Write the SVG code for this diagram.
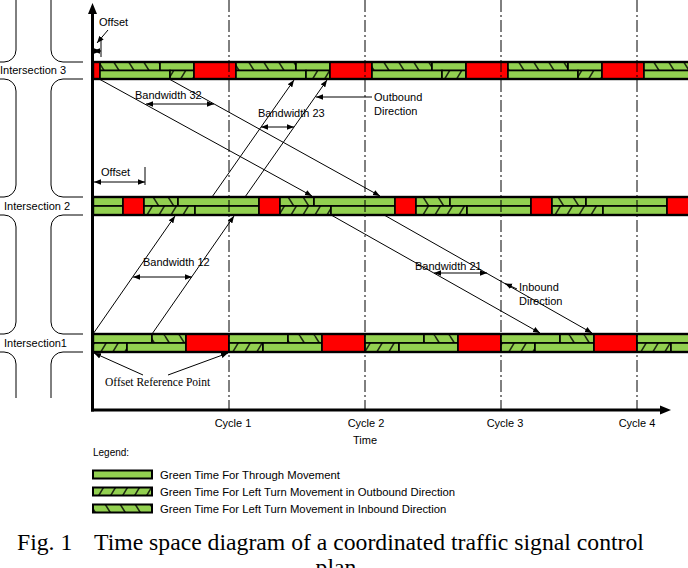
<svg xmlns="http://www.w3.org/2000/svg" width="688" height="568" viewBox="0 0 688 568">
<style>
text{font-family:"Liberation Sans",Arial,sans-serif;font-size:11px;fill:#000}
.serif{font-family:"Liberation Serif","Times New Roman",serif}
.g{fill:#92d050;stroke:#000;stroke-width:1.6}
.r{fill:#ff0000;stroke:#000;stroke-width:1.6}
.hi{fill:url(#pin);stroke:#000;stroke-width:1.6}
.ho{fill:url(#pout);stroke:#000;stroke-width:1.6}
.frame{fill:none;stroke:#000;stroke-width:2.4}
.road{fill:none;stroke:#000;stroke-width:1}
.ln{fill:none;stroke:#000;stroke-width:1}
.cyc{fill:none;stroke:#000;stroke-width:1;stroke-dasharray:12 3 2 3}
.ax{fill:none;stroke:#000;stroke-width:3}
.leg{font-size:11.3px}
.cap{font-size:23.7px}
</style>
<defs>
<pattern id="pin" patternUnits="userSpaceOnUse" width="15" height="24">
<rect width="15" height="24" fill="#92d050"/>
<path d="M-15,0 L0,24 M0,0 L15,24 M15,0 L30,24" stroke="#1e2a12" stroke-width="1.6"/>
</pattern>
<pattern id="pout" patternUnits="userSpaceOnUse" width="12" height="20">
<rect width="12" height="20" fill="#92d050"/>
<path d="M-12,20 L0,0 M0,20 L12,0 M12,20 L24,0" stroke="#1e2a12" stroke-width="1.6"/>
</pattern>
<marker id="ah" viewBox="0 0 10 10" refX="10" refY="5" markerWidth="7" markerHeight="7" orient="auto-start-reverse" markerUnits="userSpaceOnUse">
<path d="M0,1 L10,5 L0,9 z" fill="#000"/>
</marker>
</defs>

<!-- Roads -->
<g id="roads">
<path class="road" d="M16,0 V50 A12,12 0 0 1 4,62 H0"/>
<path class="road" d="M51,0 V50 A12,12 0 0 0 63,62 H83"/>
<path class="road" d="M0,79 H4 A12,12 0 0 1 16,91 V185 A12,12 0 0 1 4,197 H0"/>
<path class="road" d="M83,79 H63 A12,12 0 0 0 51,91 V185 A12,12 0 0 0 63,197 H83"/>
<path class="road" d="M0,215 H4 A12,12 0 0 1 16,227 V322 A12,12 0 0 1 4,334 H0"/>
<path class="road" d="M83,215 H63 A12,12 0 0 0 51,227 V322 A12,12 0 0 0 63,334 H83"/>
<path class="road" d="M0,352 H4 A12,12 0 0 1 16,364 V398"/>
<path class="road" d="M83,352 H63 A12,12 0 0 0 51,364 V398"/>
</g>

<!-- Intersection 3 -->
<g id="intersection3">
<rect class="r" x="93" y="62" width="7" height="17"/>
<rect class="hi" x="100" y="62" width="60" height="8.5"/><rect class="g" x="160" y="62" width="34" height="8.5"/>
<rect class="g" x="100" y="70.5" width="70" height="8.5"/><rect class="ho" x="170" y="70.5" width="24" height="8.5"/>
<rect class="r" x="194" y="62" width="42" height="17"/>
<rect class="hi" x="236" y="62" width="60" height="8.5"/><rect class="g" x="296" y="62" width="34" height="8.5"/>
<rect class="g" x="236" y="70.5" width="70" height="8.5"/><rect class="ho" x="306" y="70.5" width="24" height="8.5"/>
<rect class="r" x="330" y="62" width="42" height="17"/>
<rect class="hi" x="372" y="62" width="60" height="8.5"/><rect class="g" x="432" y="62" width="34" height="8.5"/>
<rect class="g" x="372" y="70.5" width="70" height="8.5"/><rect class="ho" x="442" y="70.5" width="24" height="8.5"/>
<rect class="r" x="466" y="62" width="42" height="17"/>
<rect class="hi" x="508" y="62" width="60" height="8.5"/><rect class="g" x="568" y="62" width="34" height="8.5"/>
<rect class="g" x="508" y="70.5" width="70" height="8.5"/><rect class="ho" x="578" y="70.5" width="24" height="8.5"/>
<rect class="r" x="602" y="62" width="42" height="17"/>
<rect class="hi" x="644" y="62" width="46" height="8.5"/>
<rect class="g" x="644" y="70.5" width="46" height="8.5"/>
<rect class="frame" x="93" y="62" width="597" height="17"/>
<text x="0" y="74">Intersection 3</text>
</g>

<!-- Intersection 2 -->
<g id="intersection2">
<rect class="g" x="93" y="197" width="30" height="9"/><rect class="g" x="93" y="206" width="30" height="9"/>
<rect class="r" x="123" y="197" width="21" height="18"/>
<rect class="hi" x="144" y="197" width="34" height="9"/><rect class="g" x="178" y="197" width="81" height="9"/>
<rect class="ho" x="144" y="206" width="51" height="9"/><rect class="g" x="195" y="206" width="64" height="9"/>
<rect class="r" x="259" y="197" width="21" height="18"/>
<rect class="hi" x="280" y="197" width="34" height="9"/><rect class="g" x="314" y="197" width="81" height="9"/>
<rect class="ho" x="280" y="206" width="51" height="9"/><rect class="g" x="331" y="206" width="64" height="9"/>
<rect class="r" x="395" y="197" width="21" height="18"/>
<rect class="hi" x="416" y="197" width="34" height="9"/><rect class="g" x="450" y="197" width="81" height="9"/>
<rect class="ho" x="416" y="206" width="51" height="9"/><rect class="g" x="467" y="206" width="64" height="9"/>
<rect class="r" x="531" y="197" width="21" height="18"/>
<rect class="hi" x="552" y="197" width="34" height="9"/><rect class="g" x="586" y="197" width="81" height="9"/>
<rect class="ho" x="552" y="206" width="51" height="9"/><rect class="g" x="603" y="206" width="64" height="9"/>
<rect class="r" x="667" y="197" width="23" height="18"/>
<rect class="frame" x="93" y="197" width="597" height="18"/>
<text x="4" y="210">Intersection 2</text>
</g>

<!-- Intersection 1 -->
<g id="intersection1">
<rect class="g" x="93" y="334" width="59" height="9"/><rect class="hi" x="152" y="334" width="34" height="9"/>
<rect class="ho" x="93" y="343" width="34" height="9"/><rect class="g" x="127" y="343" width="59" height="9"/>
<rect class="r" x="186" y="334" width="43" height="18"/>
<rect class="g" x="229" y="334" width="59" height="9"/><rect class="hi" x="288" y="334" width="34" height="9"/>
<rect class="ho" x="229" y="343" width="34" height="9"/><rect class="g" x="263" y="343" width="59" height="9"/>
<rect class="r" x="322" y="334" width="43" height="18"/>
<rect class="g" x="365" y="334" width="59" height="9"/><rect class="hi" x="424" y="334" width="34" height="9"/>
<rect class="ho" x="365" y="343" width="34" height="9"/><rect class="g" x="399" y="343" width="59" height="9"/>
<rect class="r" x="458" y="334" width="43" height="18"/>
<rect class="g" x="501" y="334" width="59" height="9"/><rect class="hi" x="560" y="334" width="34" height="9"/>
<rect class="ho" x="501" y="343" width="34" height="9"/><rect class="g" x="535" y="343" width="59" height="9"/>
<rect class="r" x="594" y="334" width="43" height="18"/>
<rect class="g" x="637" y="334" width="53" height="9"/>
<rect class="ho" x="637" y="343" width="34" height="9"/><rect class="g" x="671" y="343" width="19" height="9"/>
<rect class="frame" x="93" y="334" width="597" height="18"/>
<text x="4" y="347">Intersection1</text>
</g>

<!-- Axes and cycle lines -->
<g id="axes">
<line class="cyc" x1="229" y1="0" x2="229" y2="410"/>
<line class="cyc" x1="365" y1="0" x2="365" y2="410"/>
<line class="cyc" x1="501" y1="0" x2="501" y2="410"/>
<line class="cyc" x1="637" y1="0" x2="637" y2="410"/>
<line class="ax" x1="92.5" y1="411.5" x2="92.5" y2="12"/>
<polygon points="92.5,3 88,14 97,14" fill="#000"/>
<line class="ax" x1="91" y1="410" x2="661" y2="410"/>
<polygon points="671,410 660,405.5 660,414.5" fill="#000"/>
<text x="233" y="427" text-anchor="middle">Cycle 1</text>
<text x="366" y="427" text-anchor="middle">Cycle 2</text>
<text x="505" y="427" text-anchor="middle">Cycle 3</text>
<text x="637" y="427" text-anchor="middle">Cycle 4</text>
<text x="365" y="444" text-anchor="middle">Time</text>
</g>

<!-- Connectors -->
<g id="connectors">
<line class="ln" x1="93" y1="334" x2="175" y2="216" marker-end="url(#ah)"/>
<line class="ln" x1="152" y1="334" x2="234" y2="216" marker-end="url(#ah)"/>
<line class="ln" x1="212" y1="197" x2="294" y2="80" marker-end="url(#ah)"/>
<line class="ln" x1="245" y1="197" x2="327" y2="80" marker-end="url(#ah)"/>
<line class="ln" x1="100" y1="79.5" x2="312" y2="196" marker-end="url(#ah)"/>
<line class="ln" x1="170" y1="79.5" x2="380" y2="196" marker-end="url(#ah)"/>
<line class="ln" x1="332" y1="215.5" x2="540" y2="333" marker-end="url(#ah)"/>
<line class="ln" x1="385" y1="215.5" x2="592" y2="333" marker-end="url(#ah)"/>
<!-- dimension arrows -->
<line class="ln" x1="93" y1="51" x2="101" y2="51" marker-start="url(#ah)" marker-end="url(#ah)"/>
<line class="ln" x1="101" y1="39" x2="101" y2="57"/>
<line class="ln" x1="108" y1="30" x2="97" y2="43" marker-end="url(#ah)"/>
<line class="ln" x1="94" y1="182" x2="145" y2="182" marker-start="url(#ah)" marker-end="url(#ah)"/>
<line class="ln" x1="145" y1="167" x2="145" y2="185"/>
<line class="ln" x1="146" y1="104" x2="214" y2="104" marker-start="url(#ah)" marker-end="url(#ah)"/>
<line class="ln" x1="261" y1="127" x2="294" y2="127" marker-start="url(#ah)" marker-end="url(#ah)"/>
<line class="ln" x1="133" y1="277" x2="192" y2="277" marker-start="url(#ah)" marker-end="url(#ah)"/>
<line class="ln" x1="434" y1="273" x2="487" y2="273" marker-start="url(#ah)" marker-end="url(#ah)"/>
<line class="ln" x1="372" y1="97" x2="316" y2="97" marker-end="url(#ah)"/>
<line class="ln" x1="517" y1="289" x2="505" y2="283.5" marker-end="url(#ah)"/>
<line class="ln" x1="143" y1="375" x2="94" y2="353" marker-end="url(#ah)"/>
<line class="ln" x1="168" y1="375" x2="228" y2="353" marker-end="url(#ah)"/>
</g>

<!-- Labels -->
<g id="labels">
<text x="99" y="26">Offset</text>
<text x="101" y="176">Offset</text>
<text x="135" y="99">Bandwidth 32</text>
<text x="258" y="117">Bandwidth 23</text>
<text x="374" y="101">Outbound</text>
<text x="374" y="115">Direction</text>
<text x="143" y="266">Bandwidth 12</text>
<text x="415" y="270">Bandwidth 21</text>
<text x="519" y="291">Inbound</text>
<text x="519" y="305">Direction</text>
<text class="serif" x="105" y="386" style="font-size:11.5px">Offset Reference Point</text>
</g>

<!-- Legend -->
<g id="legend">
<text x="93" y="456" style="font-size:10px">Legend:</text>
<rect class="g" x="93" y="470.5" width="59" height="8" style="stroke-width:2"/>
<rect class="ho" x="93" y="487.5" width="59" height="8" style="stroke-width:2"/>
<rect class="hi" x="93" y="504.5" width="59" height="8" style="stroke-width:2"/>
<text class="leg" x="160" y="479">Green Time For Through Movement</text>
<text class="leg" x="160" y="496">Green Time For Left Turn Movement in Outbound Direction</text>
<text class="leg" x="160" y="513">Green Time For Left Turn Movement in Inbound Direction</text>
</g>

<!-- Caption -->
<g id="caption">
<text class="serif cap" x="17" y="550">Fig. 1</text>
<text class="serif cap" x="94" y="550">Time space diagram of a coordinated traffic signal control</text>
<text class="serif cap" x="336" y="575" text-anchor="middle">plan</text>
</g>
</svg>
